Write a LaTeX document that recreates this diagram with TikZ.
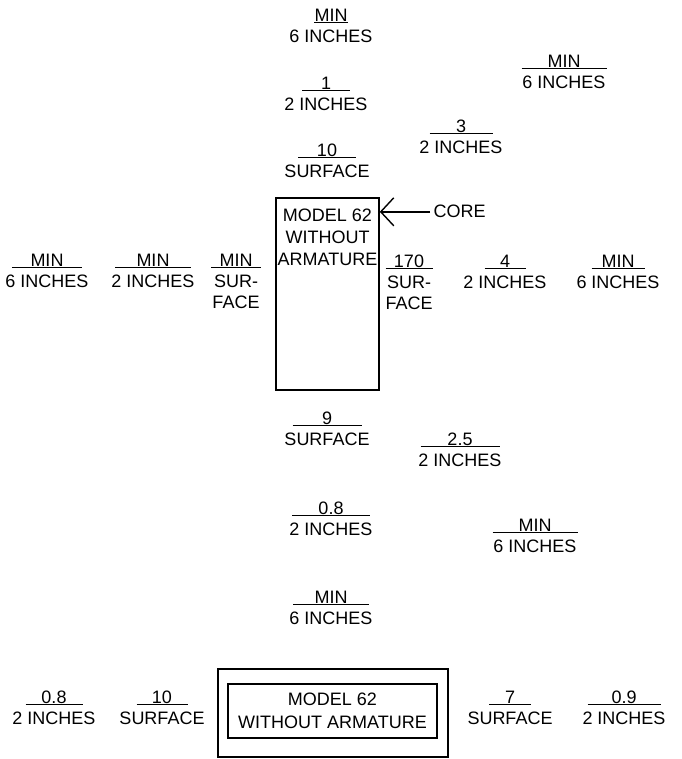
\documentclass[tikz,border=0pt]{standalone}
\usepackage{fontspec}
\setmainfont{Liberation Sans}
\usepackage{tikz}
\usetikzlibrary{positioning,arrows.meta}
\newcommand{\numr}[2]{\makebox[#1][c]{#2}\llap{\rule[-1pt]{#1}{0.8pt}}}

\begin{document}
\begin{tikzpicture}[
    x=1pt, y=-1pt,
    font=\fontsize{18}{21}\selectfont,
    ratio_lbl/.style={align=center, inner sep=0pt, anchor=north},
    model_box/.style={draw, line width=1.6pt, inner sep=0pt},
    arrow/.style={-{Straight Barb[length=13pt,width=28pt]}, line width=1.4pt}
]
\useasboundingbox (0,0) rectangle (681,759);

\node (top_min) [ratio_lbl] at (331,9) {\numr{34pt}{MIN}\\6 INCHES};
\node (top_one) [ratio_lbl] at (326,77) {\numr{48pt}{1}\\2 INCHES};
\node (top_ten) [ratio_lbl] at (327,144) {\numr{58pt}{10}\\SURFACE};
\node (tr_min) [ratio_lbl] at (564,55) {\numr{85pt}{MIN}\\6 INCHES};
\node (tr_three) [ratio_lbl] at (461,120) {\numr{63pt}{3}\\2 INCHES};

\node (core_box) [model_box, minimum width=103pt, minimum height=192pt] at (327.5,294) {};
\node (core_txt) [ratio_lbl, below=12pt of core_box.north, font=\fontsize{18}{22}\selectfont]
    {MODEL 62\\WITHOUT\\ARMATURE};
\node (core_lbl) [anchor=base west] at (430,218) {CORE};
\draw [arrow] (core_lbl.west) -- (core_box.east |- core_lbl.west);

\node (left_min6) [ratio_lbl] at (47,254) {\numr{70pt}{MIN}\\6 INCHES};
\node (left_min2) [ratio_lbl] at (153,254) {\numr{76pt}{MIN}\\2 INCHES};
\node (left_surf) [ratio_lbl] at (236,254) {\numr{50pt}{MIN}\\SUR-\\FACE};
\node (right_surf) [ratio_lbl] at (409,255) {\numr{47pt}{170}\\SUR-\\FACE};
\node (right_four) [ratio_lbl] at (505,255) {\numr{41pt}{4}\\2 INCHES};
\node (right_min6) [ratio_lbl] at (618,255) {\numr{53pt}{MIN}\\6 INCHES};

\node (mid_nine) [ratio_lbl] at (327,412) {\numr{69pt}{9}\\SURFACE};
\node (mid_twofive) [ratio_lbl] at (460,433) {\numr{79pt}{2.5}\\2 INCHES};
\node (mid_oh8) [ratio_lbl] at (331,502) {\numr{78pt}{0.8}\\2 INCHES};
\node (mid_min6) [ratio_lbl] at (535,519) {\numr{85pt}{MIN}\\6 INCHES};
\node (low_min6) [ratio_lbl] at (331,591) {\numr{76pt}{MIN}\\6 INCHES};

\node (wrap_box) [model_box, minimum width=230pt, minimum height=88pt] at (333,713) {};
\node (inner_box) [model_box, minimum width=209pt, minimum height=54pt, align=center,
    font=\fontsize{18}{23}\selectfont] at (332.5,711) {MODEL 62\\WITHOUT ARMATURE};

\node (bl_oh8) [ratio_lbl] at (54,691) {\numr{57pt}{0.8}\\2 INCHES};
\node (bl_ten) [ratio_lbl] at (162,691) {\numr{51pt}{10}\\SURFACE};
\node (br_seven) [ratio_lbl] at (510,691) {\numr{42pt}{7}\\SURFACE};
\node (br_oh9) [ratio_lbl] at (624,691) {\numr{73pt}{0.9}\\2 INCHES};

\end{tikzpicture}
\end{document}
